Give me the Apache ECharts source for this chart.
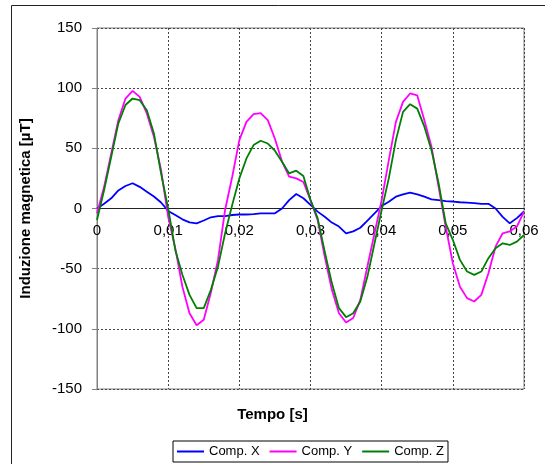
<!DOCTYPE html>
<html>
<head>
<meta charset="utf-8">
<script src="https://cdn.jsdelivr.net/npm/echarts@6/dist/echarts.min.js"></script>
<style>html,body{margin:0;padding:0;background:#fff}#c{width:545px;height:464px}</style>
</head>
<body>
<div id="c"></div>
<script>
// time in milliseconds
var timeMs = [0,1,2,3,4,5,6,7,8,9,10,11,12,13,14,15,16,17,18,19,20,21,22,23,24,25,26,27,28,29,30,
  31,32,33,34,35,36,37,38,39,40,41,42,43,44,45,46,47,48,49,50,51,52,53,54,55,56,57,58,59,60];
var compX = [0,4,8.5,15,18.7,21,18,14,10,5,-2,-5.4,-9,-11.5,-12.3,-10,-7.3,-6.3,-6.3,-5.4,-5,
  -5,-4.6,-4,-4,-4,0,7,12,8.5,3,-2.6,-6.8,-11.7,-15,-20.6,-19,-16,-10,-4,2,
  5.6,9.8,11.8,13.1,11.8,9.8,7.6,7,6.2,5.8,5.2,4.9,4.4,3.9,3.9,0,-7,-12.3,-8,-2.5];
var compY = [-4,18,45.8,73.4,91.4,97.8,92.8,79,59.6,32,-7,-33,-65,-87,-97,-92.5,-70,-42.7,-1.2,26.4,56.8,
  72,78.4,79.2,73.4,58,39,26.4,25,22,7,-9.5,-40,-67.6,-87,-94.8,-91,-76,-48,-20.6,7,
  40,72,88.6,95.6,94,73.4,51.3,18,-15,-45.5,-65,-74.5,-77.3,-71.8,-53.8,-31.7,-20.6,-19,-15,-2.6];
var compZ = [-9.5,15.4,43,70.7,86,91.4,90,81.7,62.4,29.2,0,-34.4,-55,-71.8,-82.8,-82.8,-67.6,-48.3,-20.6,3,25,
  41.6,52.7,56.3,54,48,38.8,29.2,31.4,27,7,-8,-35.8,-62,-82.8,-90.3,-87,-77.3,-56.6,-28.9,-1.2,
  25,56.8,80.3,86.7,83,68,48.5,21,-12.3,-26,-42.7,-52.4,-55.2,-52.4,-41.3,-33,-28.9,-30.3,-27.5,-22];
var seriesNames = ['Comp. X','Comp. Y','Comp. Z'];
var seriesColors = ['#0000FF','#FF00FF','#008000'];
var yTitle = 'Induzione magnetica [µT]';
var xTitle = 'Tempo [s]';

function pairs(vals){ return vals.map(function(v,i){ return [timeMs[i]/1000, v]; }); }
var allVals = [compX, compY, compZ];

var chart = echarts.init(document.getElementById('c'), null, {renderer:'canvas'});
var font = 'Liberation Sans, Arial, sans-serif';
chart.setOption({
  animation:false,
  backgroundColor:'#fff',
  textStyle:{fontFamily:font},
  grid:{left:97, top:28, width:427, height:361, show:true, borderColor:'#808080', borderWidth:1, backgroundColor:'transparent'},
  xAxis:{
    type:'value', min:0, max:0.06, interval:0.01,
    offset:-180.5,
    axisLine:{show:true, onZero:false, lineStyle:{color:'#222', width:1}},
    axisTick:{show:false},
    axisLabel:{margin:15, color:'#000', fontSize:15, fontFamily:font,
      formatter:function(v){ return v===0 ? '0' : v.toFixed(2).replace('.', ','); }},
    splitLine:{show:true, lineStyle:{color:'#444', type:[2,2], width:1}}
  },
  yAxis:{
    type:'value', min:-150, max:150, interval:50,
    name:yTitle, nameLocation:'middle', nameGap:64, nameRotate:90,
    nameTextStyle:{fontSize:15, fontWeight:'bold', color:'#000', fontFamily:font},
    axisLine:{show:true, onZero:false, lineStyle:{color:'#808080'}},
    axisTick:{show:true, length:5, lineStyle:{color:'#808080'}},
    axisLabel:{margin:15, color:'#000', fontSize:15, fontFamily:font},
    splitLine:{show:true, lineStyle:{color:'#444', type:[2,2], width:1}}
  },
  legend:{
    left:173, top:441, itemWidth:27, itemHeight:2, itemGap:10, icon:'rect',
    borderColor:'#000', borderWidth:1, padding:[4,4,4,4], backgroundColor:'#fff',
    textStyle:{fontSize:13, color:'#000', fontFamily:font},
    data:seriesNames
  },
  graphic:[
    {type:'rect', shape:{x:11.5, y:5.5, width:700, height:700}, style:{fill:null, stroke:'#222', lineWidth:1}, silent:true, z:-1},
    {type:'text', left:'center', top:407, style:{text:xTitle, font:'bold 15px Liberation Sans, Arial, sans-serif', fill:'#000', x:312, textAlign:'center'}}
  ],
  series: seriesNames.map(function(n,i){
    return {name:n, type:'line', data:pairs(allVals[i]), showSymbol:false, symbol:'none',
      lineStyle:{color:seriesColors[i], width:1.8}, itemStyle:{color:seriesColors[i]}};
  })
});
</script>
</body>
</html>
